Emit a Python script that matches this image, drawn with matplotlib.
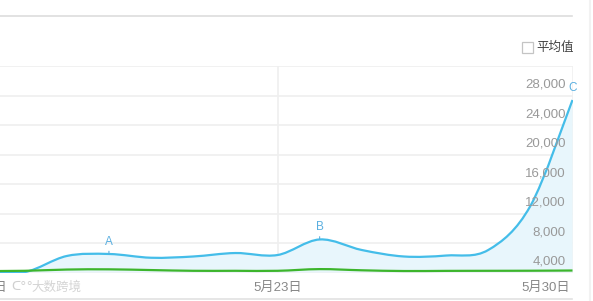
import matplotlib
matplotlib.use("Agg")
from matplotlib import pyplot as plt
from matplotlib.path import Path
from matplotlib.patches import PathPatch, Rectangle
from matplotlib.lines import Line2D
import numpy as np

# daily values, May 16 .. May 30
days = [16, 17, 18, 19, 20, 21, 22, 23, 24, 25, 26, 27, 28, 29, 30]
search = [4150, 4050, 6240, 6510, 6000, 6170, 6640, 6370, 8480, 7050, 6170, 6300, 7050, 13020, 27390]
media = [4200, 4230, 4400, 4430, 4330, 4230, 4230, 4230, 4460, 4300, 4200, 4220, 4230, 4240, 4270]

tick_days = [16, 23, 30]
tick_labels = ["5月16日", "5月23日", "5月30日"]
y_ticks = [4000, 8000, 12000, 16000, 20000, 24000, 28000, 32000]
marks = {"A": 19, "B": 24, "C": 30}

BLUE = "#44bde9"
GREEN = "#3db52c"
FONT = ["Liberation Sans", "Noto Sans CJK SC", "DejaVu Sans"]


def smooth_path(xs, ys):
    # catmull-rom segments written as cubic bezier pieces
    pts = np.column_stack([xs, ys]).astype(float)
    n = len(pts)
    verts = [pts[0]]
    codes = [Path.MOVETO]
    for i in range(n - 1):
        p0 = pts[max(i - 1, 0)]
        p1 = pts[i]
        p2 = pts[i + 1]
        p3 = pts[min(i + 2, n - 1)]
        c1 = p1 + (p2 - p0) / 6.0
        c2 = p2 - (p3 - p1) / 6.0
        verts += [c1, c2, p2]
        codes += [Path.CURVE4] * 3
    return verts, codes


fig = plt.figure(figsize=(5.93, 3.01), dpi=100)
ax = fig.add_axes([0, 28.5 / 301, 572.5 / 593, (272.5 - 66) / 301])
ax.set_xlim(16.415, 30)
ax.set_ylim(4000, 32000)
for s in ax.spines.values():
    s.set_visible(False)
ax.set_xticks([])
ax.set_yticks([])

# grid
for v in y_ticks:
    ax.axhline(v, color="#efefef", lw=1.2, zorder=0)
ax.axvline(23, color="#efefef", lw=1.2, zorder=0)
ax.axvline(30, color="#f0f0f0", lw=1.2, zorder=0)

# blue area + line
verts, codes = smooth_path(days, search)
fill_verts = verts + [(days[-1], 4000), (days[0], 4000), (days[0], 4000)]
fill_codes = codes + [Path.LINETO, Path.LINETO, Path.CLOSEPOLY]
ax.add_patch(PathPatch(Path(fill_verts, fill_codes), facecolor="#e8f6fc", edgecolor="none", zorder=1))
ax.add_patch(PathPatch(Path(verts, codes), facecolor="none", edgecolor=BLUE, lw=1.6, zorder=3))

gv, gc = smooth_path(days, media)
ax.add_patch(PathPatch(Path(gv, gc), facecolor="none", edgecolor=GREEN, lw=1.6, zorder=4))

# y labels sit above their grid lines, inside the plot
for v in y_ticks[:-1]:
    ax.annotate(f"{v:,}", xy=(1, v), xycoords=("axes fraction", "data"),
                xytext=(-5, 3.5), textcoords="offset points", ha="right", va="bottom",
                fontsize=9.5, color="#999999", family=FONT)

# x labels
for d, lab in zip(tick_days, tick_labels):
    ha = "right" if d == tick_days[-1] else "center"
    dx = -2 if d == tick_days[-1] else 0
    ax.annotate(lab, xy=(d, 0), xycoords=("data", "axes fraction"),
                xytext=(dx, -11), textcoords="offset points", ha=ha, va="center",
                fontsize=9.5, color="#888888", family=FONT, annotation_clip=False)

# event markers
for lab, d in marks.items():
    v = search[days.index(d)]
    if lab != "C":
        ax.annotate("", xy=(d, v), xytext=(0, 4), textcoords="offset points",
                    xycoords="data", arrowprops=dict(arrowstyle="-", color="#5aafe0", lw=0.8))
    ax.annotate(lab, xy=(d, v), xytext=(0, 4.5), textcoords="offset points",
                ha="center", va="bottom", fontsize=8.5, color="#5aafe0", family=FONT,
                annotation_clip=False)

# frame pieces outside the plot
fig.add_artist(Line2D([0, 572 / 593], [1 - 16 / 301] * 2, color="#dddddd", lw=1.2))
fig.add_artist(Line2D([0, 572 / 593], [1 - 299 / 301] * 2, color="#e2e2e2", lw=1.2))
fig.add_artist(Line2D([590 / 593] * 2, [0, 1], color="#f2f2f2", lw=1.5))

# legend checkbox
fig.add_artist(Rectangle((522 / 593, 1 - 52.5 / 301), 10.5 / 593, 10.5 / 301,
                         facecolor="white", edgecolor="#c4c4c4", lw=0.9))
fig.text(536 / 593, 1 - 47 / 301, "平均值", fontsize=9, color="#444444",
         family=["Noto Sans CJK SC", "DejaVu Sans"], va="center", ha="left")

# watermark
fig.text(11 / 593, 1 - 286 / 301, "ᑕ°°", fontsize=9, color="#d0d0d0", va="center")
fig.text(31 / 593, 1 - 287 / 301, "大数跨境", fontsize=9, color="#d4d4d4",
         family=["Noto Sans CJK SC", "DejaVu Sans"], va="center")

fig.savefig("out.png", dpi=100)
